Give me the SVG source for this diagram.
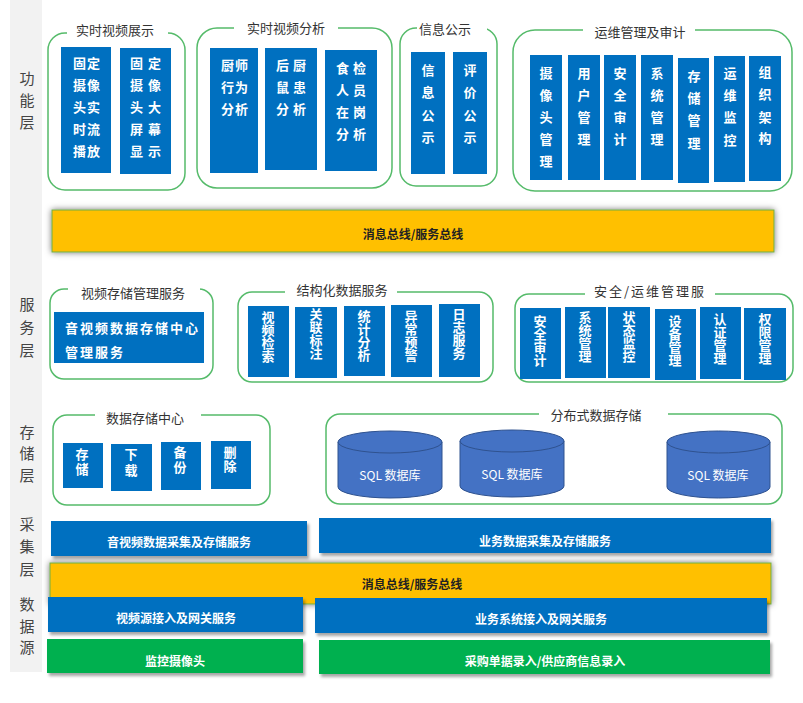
<svg xmlns="http://www.w3.org/2000/svg" width="803" height="703" viewBox="0 0 803 703">
<defs>
<filter id="sh" x="-5%" y="-30%" width="110%" height="170%"><feDropShadow dx="2" dy="3" stdDeviation="1.5" flood-color="#000" flood-opacity="0.35"/></filter>
<filter id="shb" x="-5%" y="-40%" width="110%" height="180%"><feDropShadow dx="0" dy="0" stdDeviation="3" flood-color="#000" flood-opacity="0.55"/></filter>
<style>
.grp{fill:none;stroke:#55BB6A;stroke-width:1.5}
.gap{fill:#fff}
.box{fill:#0070C0}
.bt{fill:#fff;font-family:"Noto Sans CJK SC",sans-serif;font-size:13px;font-weight:bold;text-anchor:middle}
.vt{fill:#fff;font-family:"Noto Sans CJK SC",sans-serif;font-size:13px;font-weight:bold;writing-mode:vertical-rl;text-anchor:start}
.tt{fill:#333;font-family:"Noto Sans CJK SC",sans-serif;font-size:13px;text-anchor:middle}
.lay{fill:#444;font-family:"Noto Sans CJK SC",sans-serif;font-size:15px;text-anchor:middle}
.bus{fill:#FFC000;stroke:#70AD47;stroke-width:1}
.bust{fill:#222;font-family:"Noto Sans CJK SC",sans-serif;font-size:12px;font-weight:bold;text-anchor:middle}
.bar{fill:#0070C0}
.gbar{fill:#00B050}
.bart{fill:#fff;font-family:"Noto Sans CJK SC",sans-serif;font-size:12px;font-weight:bold;text-anchor:middle}
.cyl{fill:#4472C4;stroke:#2F528F;stroke-width:1}
.ct{fill:#fff;font-family:"Noto Sans CJK SC",sans-serif;font-size:12px;text-anchor:middle}
</style>
</defs>
<rect width="803" height="703" fill="#fff"/>
<rect id="layer-strip" x="10" y="0" width="32" height="672" fill="#F2F2F2"/>
<g id="layer-labels">
<text class="lay" x="27" y="84">功</text><text class="lay" x="27" y="106">能</text><text class="lay" x="27" y="128">层</text>
<text class="lay" x="27" y="310">服</text><text class="lay" x="27" y="333">务</text><text class="lay" x="27" y="356">层</text>
<text class="lay" x="27" y="438">存</text><text class="lay" x="27" y="459">储</text><text class="lay" x="27" y="481">层</text>
<text class="lay" x="27" y="530">采</text><text class="lay" x="27" y="552">集</text><text class="lay" x="27" y="575">层</text>
<text class="lay" x="27" y="610">数</text><text class="lay" x="27" y="632">据</text><text class="lay" x="27" y="653">源</text>
</g>

<!-- Function layer -->
<g id="g-realtime-display">
<rect class="grp" x="48" y="33" width="137" height="157" rx="17"/>
<rect class="gap" x="67" y="28" width="101" height="10"/>
<text class="tt" x="115" y="35">实时视频展示</text>
<rect class="box" x="61" y="47" width="50" height="126"/>
<g class="bt" letter-spacing="1"><text x="87" y="68">固定</text><text x="87" y="90">摄像</text><text x="87" y="112">头实</text><text x="87" y="134">时流</text><text x="87" y="156">播放</text></g>
<rect class="box" x="120" y="48" width="51" height="126"/>
<g class="bt" letter-spacing="5"><text x="148" y="68">固定</text><text x="148" y="90">摄像</text><text x="148" y="112">头大</text><text x="148" y="134">屏幕</text><text x="148" y="156">显示</text></g>
</g>

<g id="g-realtime-analysis">
<rect class="grp" x="197" y="28" width="195" height="160" rx="20"/>
<rect class="gap" x="234" y="23" width="104" height="10"/>
<text class="tt" x="286" y="33">实时视频分析</text>
<rect class="box" x="210" y="48" width="48" height="125"/>
<g class="bt" letter-spacing="1"><text x="235" y="70">厨师</text><text x="235" y="92">行为</text><text x="235" y="114">分析</text></g>
<rect class="box" x="265" y="48" width="52" height="122"/>
<g class="bt" letter-spacing="4"><text x="293" y="70">后厨</text><text x="293" y="92">鼠患</text><text x="293" y="114">分析</text></g>
<rect class="box" x="325" y="50" width="52" height="121"/>
<g class="bt" letter-spacing="4"><text x="353" y="73">食检</text><text x="353" y="95">人员</text><text x="353" y="117">在岗</text><text x="353" y="139">分析</text></g>
</g>

<g id="g-info">
<rect class="grp" x="400" y="28" width="97" height="158" rx="16"/>
<rect class="gap" x="417" y="23" width="70" height="10"/>
<text class="tt" x="445" y="34">信息公示</text>
<rect class="box" x="411" y="52" width="34" height="122"/>
<g class="bt"><text x="428" y="75">信</text><text x="428" y="97">息</text><text x="428" y="120">公</text><text x="428" y="142">示</text></g>
<rect class="box" x="453" y="52" width="34" height="122"/>
<g class="bt"><text x="470" y="75">评</text><text x="470" y="97">价</text><text x="470" y="120">公</text><text x="470" y="142">示</text></g>
</g>

<g id="g-ops-audit">
<rect class="grp" x="513" y="30" width="279" height="161" rx="22"/>
<rect class="gap" x="583" y="25" width="112" height="10"/>
<text class="tt" x="640" y="37">运维管理及审计</text>
<rect class="box" x="530" y="55" width="32" height="125"/>
<g class="bt"><text x="546" y="78">摄</text><text x="546" y="100">像</text><text x="546" y="122">头</text><text x="546" y="144">管</text><text x="546" y="166">理</text></g>
<rect class="box" x="568" y="55" width="32" height="125"/>
<g class="bt"><text x="584" y="78">用</text><text x="584" y="100">户</text><text x="584" y="122">管</text><text x="584" y="144">理</text></g>
<rect class="box" x="604" y="55" width="32" height="125"/>
<g class="bt"><text x="620" y="78">安</text><text x="620" y="100">全</text><text x="620" y="122">审</text><text x="620" y="144">计</text></g>
<rect class="box" x="641" y="55" width="32" height="125"/>
<g class="bt"><text x="657" y="78">系</text><text x="657" y="100">统</text><text x="657" y="122">管</text><text x="657" y="144">理</text></g>
<rect class="box" x="678" y="58" width="31" height="125"/>
<g class="bt"><text x="694" y="81">存</text><text x="694" y="103">储</text><text x="694" y="125">管</text><text x="694" y="148">理</text></g>
<rect class="box" x="714" y="56" width="31" height="126"/>
<g class="bt"><text x="730" y="78">运</text><text x="730" y="100">维</text><text x="730" y="122">监</text><text x="730" y="145">控</text></g>
<rect class="box" x="749" y="56" width="32" height="125"/>
<g class="bt"><text x="765" y="77">组</text><text x="765" y="99">织</text><text x="765" y="122">架</text><text x="765" y="143">构</text></g>
</g>

<g id="bus-top" filter="url(#shb)">
<rect class="bus" x="52" y="210" width="722" height="42"/>
</g>
<text class="bust" x="413" y="239">消息总线/服务总线</text>

<!-- Service layer -->
<g id="g-video-storage-svc">
<rect class="grp" x="50" y="289" width="163" height="90" rx="14"/>
<rect class="gap" x="68" y="284" width="132" height="10"/>
<text class="tt" x="133" y="298">视频存储管理服务</text>
<rect class="box" x="54" y="312" width="150" height="51"/>
<g class="bt" style="text-anchor:start" letter-spacing="2"><text x="65" y="333">音视频数据存储中心</text><text x="65" y="357">管理服务</text></g>
</g>

<g id="g-struct-data-svc">
<rect class="grp" x="238" y="292" width="255" height="90" rx="14"/>
<rect class="gap" x="285" y="287" width="112" height="10"/>
<text class="tt" x="342" y="295">结构化数据服务</text>
<rect class="box" x="248" y="306" width="41" height="71"/>
<text class="vt" x="268" y="311">视频检索</text>
<rect class="box" x="295" y="307" width="42" height="71"/>
<text class="vt" x="316" y="308">关联标注</text>
<rect class="box" x="344" y="306" width="41" height="70"/>
<text class="vt" x="364" y="310">统计分析</text>
<rect class="box" x="391" y="305" width="41" height="72"/>
<text class="vt" x="411" y="310">异常预警</text>
<rect class="box" x="439" y="304" width="41" height="73"/>
<text class="vt" x="459" y="308">日志服务</text>
</g>

<g id="g-sec-ops-svc">
<rect class="grp" x="515" y="294" width="278" height="88" rx="14"/>
<rect class="gap" x="585" y="286" width="130" height="12"/>
<text class="tt" x="650" y="296" letter-spacing="2">安全/运维管理服</text>
<rect class="box" x="520" y="308" width="41" height="71"/>
<text class="vt" x="540" y="315">安全审计</text>
<rect class="box" x="565" y="307" width="41" height="71"/>
<text class="vt" x="585" y="311">系统管理</text>
<rect class="box" x="608" y="307" width="42" height="71"/>
<text class="vt" x="629" y="311">状态监控</text>
<rect class="box" x="655" y="309" width="41" height="71"/>
<text class="vt" x="675" y="315">设备管理</text>
<rect class="box" x="700" y="307" width="41" height="72"/>
<text class="vt" x="720" y="313">认证管理</text>
<rect class="box" x="744" y="308" width="42" height="72"/>
<text class="vt" x="765" y="313">权限管理</text>
</g>

<!-- Storage layer -->
<g id="g-data-storage-center">
<rect class="grp" x="53" y="415" width="217" height="90" rx="14"/>
<rect class="gap" x="95" y="410" width="106" height="10"/>
<text class="tt" x="145" y="423">数据存储中心</text>
<rect class="box" x="63" y="443" width="40" height="45"/>
<text class="vt" x="82" y="448" letter-spacing="2">存储</text>
<rect class="box" x="111" y="444" width="41" height="47"/>
<text class="vt" x="131" y="448" letter-spacing="3">下载</text>
<rect class="box" x="161" y="442" width="40" height="48"/>
<text class="vt" x="180" y="446" letter-spacing="2">备份</text>
<rect class="box" x="211" y="441" width="40" height="48"/>
<text class="vt" x="230" y="446" letter-spacing="1">删除</text>
</g>

<g id="g-distributed-storage">
<rect class="grp" x="326" y="414" width="456" height="90" rx="14"/>
<rect class="gap" x="539" y="409" width="129" height="10"/>
<text class="tt" x="596" y="420">分布式数据存储</text>
<g id="db1">
<path class="cyl" d="M338,442 L338,487 A52,11 0 0 0 442,487 L442,442 Z"/>
<ellipse class="cyl" cx="390" cy="442" rx="52" ry="11"/>
<text class="ct" x="390" y="480">SQL 数据库</text>
</g>
<g id="db2">
<path class="cyl" d="M460,441 L460,486 A52,11 0 0 0 564,486 L564,441 Z"/>
<ellipse class="cyl" cx="512" cy="441" rx="52" ry="11"/>
<text class="ct" x="512" y="479">SQL 数据库</text>
</g>
<g id="db3">
<path class="cyl" d="M667,442 L667,487 A51.5,11 0 0 0 770,487 L770,442 Z"/>
<ellipse class="cyl" cx="718.5" cy="442" rx="51.5" ry="11"/>
<text class="ct" x="718" y="480">SQL 数据库</text>
</g>
</g>

<!-- Collection layer -->
<g id="n-av-collect" filter="url(#sh)">
<rect class="bar" x="51" y="521" width="256" height="35"/>
</g>
<text class="bart" x="179" y="547">音视频数据采集及存储服务</text>
<g id="n-biz-collect" filter="url(#sh)">
<rect class="bar" x="319" y="518" width="452" height="35"/>
</g>
<text class="bart" x="545" y="546">业务数据采集及存储服务</text>

<g id="bus-bottom" filter="url(#shb)">
<rect class="bus" x="50" y="563" width="721" height="41"/>
</g>
<text class="bust" x="412" y="589">消息总线/服务总线</text>

<!-- Data source layer -->
<g id="n-video-gw" filter="url(#sh)">
<rect class="bar" x="48" y="597" width="255" height="35"/>
</g>
<text class="bart" x="176" y="623">视频源接入及网关服务</text>
<g id="n-biz-gw" filter="url(#sh)">
<rect class="bar" x="315" y="598" width="452" height="35"/>
</g>
<text class="bart" x="541" y="624">业务系统接入及网关服务</text>
<g id="n-camera" filter="url(#sh)">
<rect class="gbar" x="47" y="639" width="256" height="34"/>
</g>
<text class="bart" x="175" y="666">监控摄像头</text>
<g id="n-purchase" filter="url(#sh)">
<rect class="gbar" x="319" y="640" width="451" height="34"/>
</g>
<text class="bart" x="545" y="666">采购单据录入/供应商信息录入</text>
</svg>
